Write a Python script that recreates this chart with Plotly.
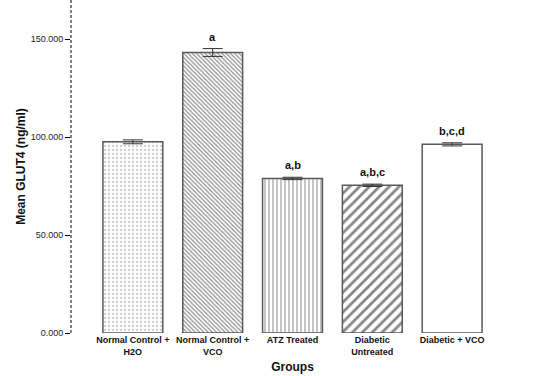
import plotly.graph_objects as go

groups = ["Normal Control +<br>H2O", "Normal Control +<br>VCO", "ATZ Treated",
          "Diabetic<br>Untreated", "Diabetic + VCO"]
means = [97.6, 143.2, 78.9, 75.4, 96.3]
errors = [1.0, 2.0, 0.6, 0.6, 0.8]
letters = ["", "a", "a,b", "a,b,c", "b,c,d"]
y_ticks = [0, 50, 100, 150]
y_tick_labels = ["0.000", "50.000", "100.000", "150.000"]

xs = list(range(len(groups)))

fig = go.Figure()
fig.add_trace(go.Bar(
    x=xs, y=means, width=0.75,
    marker=dict(
        color="white",
        line=dict(color="#5a5a5a", width=1.5),
        pattern=dict(
            shape=[".", "\\", "|", "/", ""],
            fgcolor=["#9a9a9a", "#1a1a1a", "#555555", "#111111", "white"],
            bgcolor="white",
            size=[4, 3, 4, 7, 8],
            solidity=[0.25, 0.4, 0.35, 0.4, 0.2],
        ),
    ),
    error_y=dict(type="data", array=errors, visible=True,
                 color="#333333", thickness=1, width=10),
    showlegend=False,
    hoverinfo="skip",
))

for x, m, e, t in zip(xs, means, errors, letters):
    if t:
        fig.add_annotation(x=x, y=m + e, text="<b>" + t + "</b>", showarrow=False,
                           yanchor="bottom", yshift=4,
                           font=dict(family="Liberation Sans, Arial", size=11, color="#111"))

fig.add_shape(type="line", xref="paper", yref="paper", x0=0, x1=0, y0=0, y1=1,
              line=dict(color="black", width=1, dash="3px,2px"))

fig.update_layout(
    width=554, height=376,
    margin=dict(l=71, r=40, t=0, b=43),
    plot_bgcolor="white", paper_bgcolor="white",
    font=dict(family="Liberation Sans, Arial", size=9, color="#111"),
    xaxis=dict(
        range=[-0.775, 4.775],
        tickmode="array", tickvals=xs, ticktext=["<b>" + g + "</b>" for g in groups],
        showline=False, showgrid=False, zeroline=False, ticks="",
        ticklabelstandoff=0,
        tickfont=dict(size=9, color="#111"),
        title=dict(text="<b>Groups</b>", font=dict(size=12, color="#111"), standoff=6),
    ),
    yaxis=dict(
        range=[0, 170],
        tickmode="array", tickvals=y_ticks, ticktext=y_tick_labels,
        showline=False, showgrid=False, zeroline=False,
        ticks="outside", ticklen=5, tickcolor="black", tickwidth=1,
        tickfont=dict(size=9, color="#222"),
        title=dict(text="<b>Mean GLUT4 (ng/ml)</b>", font=dict(size=12, color="#111"), standoff=2),
    ),
    bargap=0.25,
)

fig.write_html("out.html", config={"displayModeBar": False},
               post_script="document.body.style.margin='0';")
